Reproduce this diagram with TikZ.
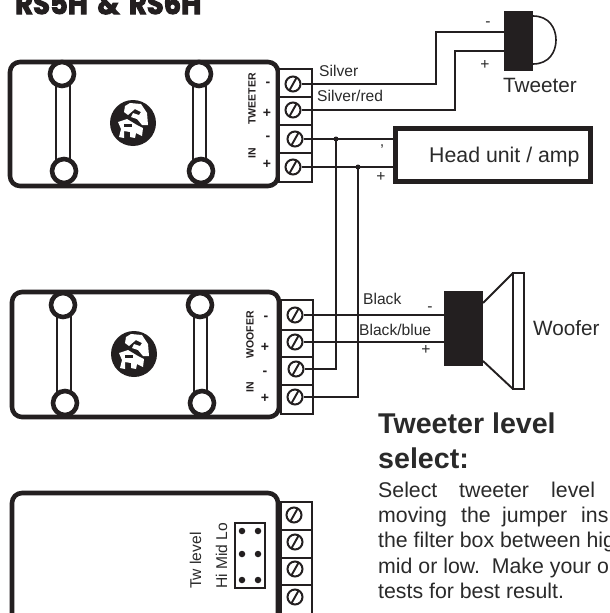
\documentclass[tikz,border=0pt]{standalone}
\usepackage{fontspec}
\setmainfont{Liberation Sans}
\usetikzlibrary{calc}
\definecolor{ink}{HTML}{231F20}
\definecolor{txt}{HTML}{2A2A2A}
\tikzset{
  box/.style={draw=ink,line width=4.6pt,rounded corners=10pt,fill=white},
  hole/.style={circle,draw=ink,line width=4.6pt,fill=white,minimum size=24pt,inner sep=0pt},
  bar/.style={draw=ink,line width=1.8pt,fill=white},
  term/.style={draw=ink,line width=1.6pt,fill=white},
  screw/.style={circle,draw=ink,line width=2pt,fill=white,minimum size=15pt,inner sep=0pt,
    path picture={\draw[ink,line width=1.9pt] (path picture bounding box.center) ++(-4.5,8) -- ++(9,-16);}},
  wire/.style={draw=ink,line width=1.9pt,line join=miter},
  dot/.style={circle,fill=ink,minimum size=5pt,inner sep=0pt},
  pin/.style={circle,fill=ink,minimum size=6.5pt,inner sep=0pt},
  lab/.style={text=txt,font=\fontsize{15.6}{15.6}\selectfont,inner sep=0pt},
  big/.style={text=txt,font=\fontsize{20.7}{20.7}\selectfont,inner sep=0pt},
  tiny/.style={text=ink,font=\bfseries\fontsize{10.5}{10.5}\selectfont,inner sep=0pt},
  pmark/.style={text=ink,font=\bfseries\fontsize{14}{14}\selectfont,inner sep=0pt},
  head/.style={text=txt,font=\bfseries\fontsize{28.6}{28.6}\selectfont,inner sep=0pt,anchor=base west},
  body/.style={text=txt,font=\fontsize{21.3}{21.3}\selectfont,inner sep=0pt,anchor=base west},
  logo/.style={circle,fill=ink,minimum size=46pt,inner sep=0pt}
}
\newcommand{\rslogo}[1]{%
  \fill[white] ($(#1)+(-15,-1)$) -- ++(9,-3) -- ++(10,6) -- ++(6,3) -- ++(-1,8) -- ++(-6,-3) -- ++(-1,5) -- ++(-5,-1) -- ++(0,-5) -- ++(-6,-1) -- ++(0,7) -- ++(-5,-1) -- ++(2,-8) -- cycle;
  \fill[white] ($(#1)+(-8,-17)$) -- ++(5,-3) -- ++(11,1) -- ++(6,9) -- ++(1,12) -- ++(-6,0) -- ++(-5,-6) -- ++(-6,-2) -- ++(2,-4) -- ++(6,2) -- ++(2,-3) -- ++(-6,-3) -- ++(-7,6) -- ++(-4,-3) -- cycle;
  \fill[ink] ($(#1)+(-9,1)$) rectangle ++(8,3);
}
\begin{document}
\begin{tikzpicture}[x=1pt,y=-1pt]
\useasboundingbox (0,0) rectangle (610,613);
\clip (0,0) rectangle (610,613);
\fill[white] (0,0) rectangle (610,613);

% title
\node[anchor=base west,inner sep=0pt,text=ink] (title) at (15,14)
  {\resizebox{186pt}{22pt}{\fontspec{Poppins}[FakeBold=3.5]\bfseries RS5H\hspace{0.35em}\&\hspace{0.35em}RS6H}};

% ---------- unit 1
\draw[box] (10,62) rectangle (278,186);
\draw[bar] (56,80) rectangle (70,165);
\draw[bar] (193,80) rectangle (206,165);
\node[hole] (h1a) at (62,74) {};
\node[hole] (h1b) at (64,171) {};
\node[hole] (h1c) at (199,74) {};
\node[hole] (h1d) at (201,171) {};
\node[logo] (logo1) at (133,123) {};
\rslogo{logo1}
\node[tiny,rotate=90] (t1) at (252,99) {TWEETER};
\node[tiny,rotate=90] (t2) at (252,153) {IN};
\node[pmark] (p1) at (268,84) {-};
\node[pmark] (p2) at (267,113) {+};
\node[pmark] (p3) at (268,138) {-};
\node[pmark] (p4) at (267,164) {+};
\draw[term] (279,69) rectangle (312,182);
\draw[term] (279,97) -- (312,97) (279,125) -- (312,125) (279,153) -- (312,153);
\node[screw] (s11) at (293,84) {};
\node[screw] (s12) at (293,110) {};
\node[screw] (s13) at (295,139) {};
\node[screw] (s14) at (293,167) {};

% ---------- unit 2
\draw[box] (12,292) rectangle (279,417);
\draw[bar] (57,310) rectangle (71,395);
\draw[bar] (194,310) rectangle (207,395);
\node[hole] (h2a) at (63,305) {};
\node[hole] (h2b) at (65,403) {};
\node[hole] (h2c) at (200,305) {};
\node[hole] (h2d) at (202,403) {};
\node[logo] (logo2) at (134,354) {};
\rslogo{logo2}
\node[tiny,rotate=90] (t3) at (250,335) {WOOFER};
\node[tiny,rotate=90] (t4) at (250,387) {IN};
\node[pmark] (p5) at (266,318) {-};
\node[pmark] (p6) at (265,347) {+};
\node[pmark] (p7) at (265,373) {-};
\node[pmark] (p8) at (265,398) {+};
\draw[term] (281,300) rectangle (313,414);
\draw[term] (281,330) -- (313,330) (281,357) -- (313,357) (281,385) -- (313,385);
\node[screw] (s21) at (295,315) {};
\node[screw] (s22) at (295,342) {};
\node[screw] (s23) at (296,369) {};
\node[screw] (s24) at (295,397) {};

% ---------- unit 3
\draw[box] (12,493) rectangle (278,650);
\draw[term] (281,502) rectangle (312,650);
\draw[term] (281,530) -- (312,530) (281,558) -- (312,558) (281,585) -- (312,585);
\node[screw] (s31) at (294,515) {};
\node[screw] (s32) at (295,542) {};
\node[screw] (s33) at (295,569) {};
\node[screw] (s34) at (295,597) {};
\draw[draw=ink,line width=1.8pt] (235,523) rectangle (265,588);
\node[pin] (j1) at (242,531) {};
\node[pin] (j2) at (258,531) {};
\node[pin] (j3) at (242,554) {};
\node[pin] (j4) at (258,554) {};
\node[pin] (j5) at (242,580) {};
\node[pin] (j6) at (258,580) {};
\node[lab,rotate=90,anchor=base west] (hml) at (227,589) {Hi Mid Lo};
\node[lab,rotate=90,anchor=base west] (twl) at (201,589) {Tw level};

% ---------- tweeter
\node[fill=ink,minimum width=29pt,minimum height=60pt,inner sep=0pt] (tw) at (518.5,41) {};
\draw[ink,line width=1.6pt] (533,16) .. controls (549,16) and (556,28) .. (556,40) .. controls (556,52) and (549,64) .. (533,64);
\coordinate (tw1) at (504,32);
\coordinate (tw2) at (504,51);
\draw[wire] (s11.east) -- (436,84) -- (436,32) -- (tw1);
\draw[wire] (s12.east) -- (455,110) -- (455,51) -- (tw2);
\node[lab,anchor=base west] (l1) at (319,76) {Silver};
\node[lab,anchor=base west] (l2) at (317,101) {Silver/red};
\node[lab] (m1) at (488,24) {-};
\node[lab] (m2) at (485,65) {+};
\node[big,anchor=base west] (twt) at (503,92.5) {Tweeter};

% ---------- head unit
\node[draw=ink,line width=5pt,minimum width=195pt,minimum height=53pt,inner sep=0pt,fill=white] (hu) at (493,155) {};
\node[big,anchor=base west,font=\fontsize{21.3}{21.3}\selectfont] (hut) at (429,162) {Head unit / amp};
\draw[wire] (s13.east) -- (s13.east -| hu.west);
\draw[wire] (s14.east) -- (s14.east -| hu.west);
\node[lab] (m3) at (382,150) {'};
\node[lab] (m4) at (381,177) {+};
\node[dot] (jd1) at (336,139) {};
\node[dot] (jd2) at (358,167) {};
\draw[wire] (jd1.center) -- (jd1.center |- s23) -- (s23.east);
\draw[wire] (jd2.center) -- (jd2.center |- s24) -- (s24.east);

% ---------- woofer
\node[fill=ink,minimum width=39pt,minimum height=75pt,inner sep=0pt] (wf) at (463.5,328.5) {};
\draw[wire] (s21.east) -- (s21.east -| wf.west);
\draw[wire] (s22.east) -- (s22.east -| wf.west);
\draw[draw=ink,line width=1.9pt,fill=white] (513,273) rectangle (524,389);
\draw[wire] (483,303) -- (513,273) (483,361) -- (513,389);
\node[lab,anchor=base west] (l3) at (363,304) {Black};
\node[lab,anchor=base west] (l4) at (359,335) {Black/blue};
\node[lab] (m5) at (430,309) {-};
\node[lab] (m6) at (426,350) {+};
\node[big,anchor=base west] (wft) at (533,335) {Woofer};

% ---------- text
\node[head] (h1) at (378,433) {Tweeter level};
\node[head] (h2) at (378,468) {select:};
\node[body] (b11) at (378,497) {Select};
\node[body] (b12) at (459,497) {tweeter};
\node[body] (b13) at (551,497) {level};
\node[body] (b21) at (378,522) {moving};
\node[body] (b22) at (461,522) {the};
\node[body] (b23) at (502,522) {jumper};
\node[body] (b24) at (581,522) {ins};
\node[body] (b3) at (378,547) {the filter box between hig};
\node[body] (b4) at (378,573) {mid or low.\hspace{4pt} Make your o};
\node[body] (b5) at (378,598) {tests for best result.};
\end{tikzpicture}
\end{document}
